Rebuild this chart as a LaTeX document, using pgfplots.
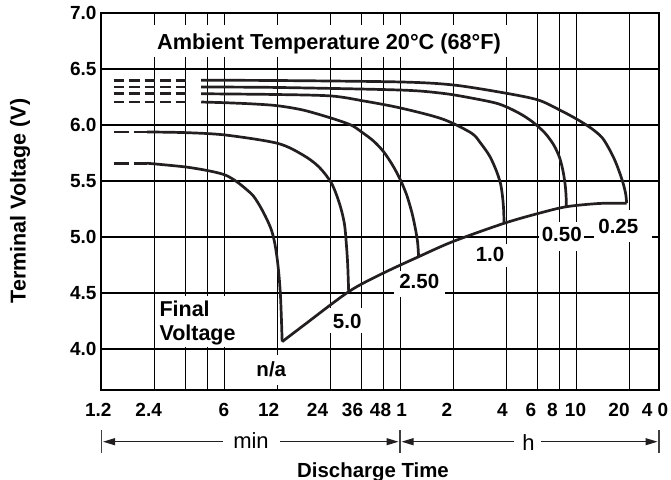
\documentclass[border=0pt]{standalone}
\usepackage{fontspec}
\setmainfont{Liberation Sans}
\usepackage{pgfplots}
\pgfplotsset{compat=1.18}
\usetikzlibrary{arrows.meta}
\definecolor{ink}{RGB}{35,31,32}
\newcommand{\fs}[1]{\fontsize{#1bp}{#1bp}\selectfont}
\begin{document}
\begin{tikzpicture}
\begin{axis}[
  at={(101.4bp,-390bp)}, anchor=south west,
  scale only axis, width=557.6bp, height=377.3bp,
  xmode=log, xmin=1.2, xmax=1767, ymin=3.634, ymax=7.0,
  xtick={1.2,2.4,3.6,4.8,6,12,24,36,48,60,120,240,360,480,600,1200},
  xticklabels={},
  xminorticks=false,
  ytick={4,4.5,5,5.5,6,6.5,7},
  yticklabels={4.0,4.5,5.0,5.5,6.0,6.5,{\raisebox{-3bp}{7.0}}},
  grid=major,
  major grid style={line width=1.6bp, black},
  axis line style={line width=2bp, black},
  tick style={draw=none},
  yticklabel style={font=\bfseries\fs{19}, anchor=east, inner sep=0pt, xshift=-4.7bp},
]
% dashed starts
\addplot[ink, line width=2.7bp, dash pattern=on 15bp off 5bp] coordinates {(1.407,5.657) (2.183,5.657)};
\addplot[ink, line width=2.7bp, dash pattern=on 15bp off 5bp] coordinates {(1.407,5.936) (2.183,5.936)};
\addplot[ink, line width=2.7bp, dash pattern=on 10.5bp off 5bp] coordinates {(1.407,6.203) (3.87,6.203)};
\addplot[ink, line width=2.7bp, dash pattern=on 10.5bp off 5bp] coordinates {(1.407,6.277) (3.87,6.277)};
\addplot[ink, line width=2.7bp, dash pattern=on 10.5bp off 5bp] coordinates {(1.407,6.337) (3.87,6.337)};
\addplot[ink, line width=2.7bp, dash pattern=on 10.5bp off 5bp] coordinates {(1.407,6.397) (3.87,6.397)};
% n/a
\addplot[ink, line width=2.7bp, smooth] coordinates {
 (2.183,5.657) (3.594,5.624) (4.94,5.588) (6.06,5.552) (6.95,5.499) (7.83,5.436) (8.76,5.365)
 (9.61,5.267) (10.43,5.160) (11.09,5.062) (11.55,4.955) (11.95,4.812) (12.26,4.651)
 (12.49,4.473) (12.64,4.277) (12.77,4.065)};
% 5.0
\addplot[ink, line width=2.7bp, smooth] coordinates {
 (2.183,5.936) (3.61,5.930) (6.06,5.909) (12,5.835) (16.73,5.731) (20.6,5.626) (24.3,5.481)
 (27.0,5.300) (28.8,5.121) (29.6,4.928) (30.1,4.749) (30.48,4.511)};
% 2.50
\addplot[ink, line width=2.7bp, smooth] coordinates {
 (4.43,6.203) (6.02,6.197) (8.76,6.186) (12,6.170) (16.73,6.132) (24.1,6.061) (31.4,5.998)
 (36.1,5.936) (42.2,5.855) (48.3,5.757) (54.5,5.632) (60,5.508) (65.1,5.374) (69.8,5.213)
 (73.2,5.062) (75.2,4.946) (76.1,4.823)};
% 1.0
\addplot[ink, line width=2.7bp, smooth] coordinates {
 (4.43,6.277) (12,6.270) (24.3,6.257) (37.3,6.212) (60,6.150) (103.8,6.052) (151.5,5.927)
 (170.9,5.838) (192.6,5.722) (209.5,5.597) (221.8,5.481) (227.9,5.365) (231.5,5.240) (232.6,5.121)};
% 0.50
\addplot[ink, line width=2.7bp, smooth] coordinates {
 (4.43,6.337) (12,6.333) (60,6.310) (103.8,6.281) (151.5,6.239) (217.3,6.186) (282.5,6.105)
 (338.4,6.025) (397.1,5.927) (445.8,5.820) (482,5.704) (504.5,5.579) (517.8,5.463)
 (523.8,5.365) (525.7,5.269)};
% 0.25
\addplot[ink, line width=2.7bp, smooth] coordinates {
 (4.43,6.397) (12,6.395) (60,6.382) (120,6.355) (240,6.281) (364,6.221) (482,6.132)
 (600,6.052) (725,5.971) (838,5.887) (928,5.775) (1001,5.668) (1067,5.552) (1116,5.454)
 (1145,5.374) (1157,5.300)};
% final voltage
\addplot[ink, line width=2.7bp, smooth] coordinates {
 (12.77,4.065) (16.73,4.205) (30.48,4.511) (47.1,4.671) (76.1,4.823) (119,4.958)
 (232.6,5.121) (372,5.213) (525.7,5.269) (806,5.298) (1157,5.300)};
\end{axis}
\begin{scope}[x=1bp,y=-1bp]
 % white label backgrounds
 \fill[white] (153,25) rectangle (510,57);
 \fill[white] (156,296) rectangle (241,347);
 \fill[white] (253,355) rectangle (290,385);
 \fill[white] (329.5,307.5) rectangle (364,333);
 \fill[white] (393.5,271) rectangle (445,297);
 \fill[white] (472,244) rectangle (509,267);
 \fill[white] (539,222) rectangle (584,251);
 \fill[white] (594,210) rectangle (652,242);
 % title
 \node[anchor=base west, inner sep=0pt, font=\bfseries\fs{21.7}] at (157,50) {Ambient Temperature 20°C (68°F)};
 \node[anchor=base west, inner sep=0pt, font=\bfseries\fs{21.5}] at (159.3,316.7) {Final};
 \node[anchor=base west, inner sep=0pt, font=\bfseries\fs{21.5}] at (159.3,340) {Voltage};
 % curve labels
 \begin{scope}[every node/.style={anchor=base, inner sep=0pt, font=\bfseries\fs{20.5}}]
  \node at (271.3,376.7) {n/a};
  \node at (347.2,328.3) {5.0};
  \node at (419.2,288.3) {2.50};
  \node at (490,262) {1.0};
  \node at (561.7,241.7) {0.50};
  \node at (618.3,233.3) {0.25};
 \end{scope}
 % x tick labels
 \begin{scope}[every node/.style={anchor=base, inner sep=0pt, font=\bfseries\fs{19}}]
  \node at (98.3,416.7) {1.2};
  \node at (148.7,416.7) {2.4};
  \node at (224,416.7) {6};
  \node at (268.7,416.7) {12};
  \node at (317.5,416.7) {24};
  \node at (352.5,416.7) {36};
  \node at (380.5,416.7) {48};
  \node at (401.7,416.7) {1};
  \node at (447,416.7) {2};
  \node at (502.5,416.7) {4};
  \node at (530.8,416.7) {6};
  \node at (552.5,416.7) {8};
  \node at (575.5,416.7) {10};
  \node at (619,416.7) {20};
  \node at (655,416.7) {4 0};
 \end{scope}
 % min / h arrows
 \draw[black!75, line width=1.3bp] (101.4,430) -- (101.4,453);
 \draw[black!75, line width=1.3bp] (400,430) -- (400,453);
 \draw[black!75, line width=1.3bp] (659,430) -- (659,453);
 \begin{scope}[line width=1.1bp, ink]
  \draw[-{Triangle[length=12bp,width=7bp]}] (222.5,441.7) -- (103,441.7);
  \draw[-{Triangle[length=12bp,width=7bp]}] (280,441.7) -- (398.5,441.7);
  \draw[-{Triangle[length=12bp,width=7bp]}] (513.5,441.7) -- (401.5,441.7);
  \draw[-{Triangle[length=12bp,width=7bp]}] (541,441.7) -- (657.5,441.7);
 \end{scope}
 \node[anchor=base, inner sep=0pt, font=\fs{22}] at (251,448.5) {min};
 \node[anchor=base, inner sep=0pt, font=\fs{22}] at (528.5,450) {h};
 % axis titles
 \node[anchor=base, inner sep=0pt, font=\bfseries\fs{20.4}] at (373,477) {Discharge Time};
 \node[anchor=base, rotate=90, inner sep=0pt, font=\bfseries\fs{21.5}] at (25.5,201) {Terminal Voltage (V)};
 \pgfresetboundingbox
 \path[use as bounding box] (0,0) rectangle (671,480);
\end{scope}
\end{tikzpicture}
\end{document}
